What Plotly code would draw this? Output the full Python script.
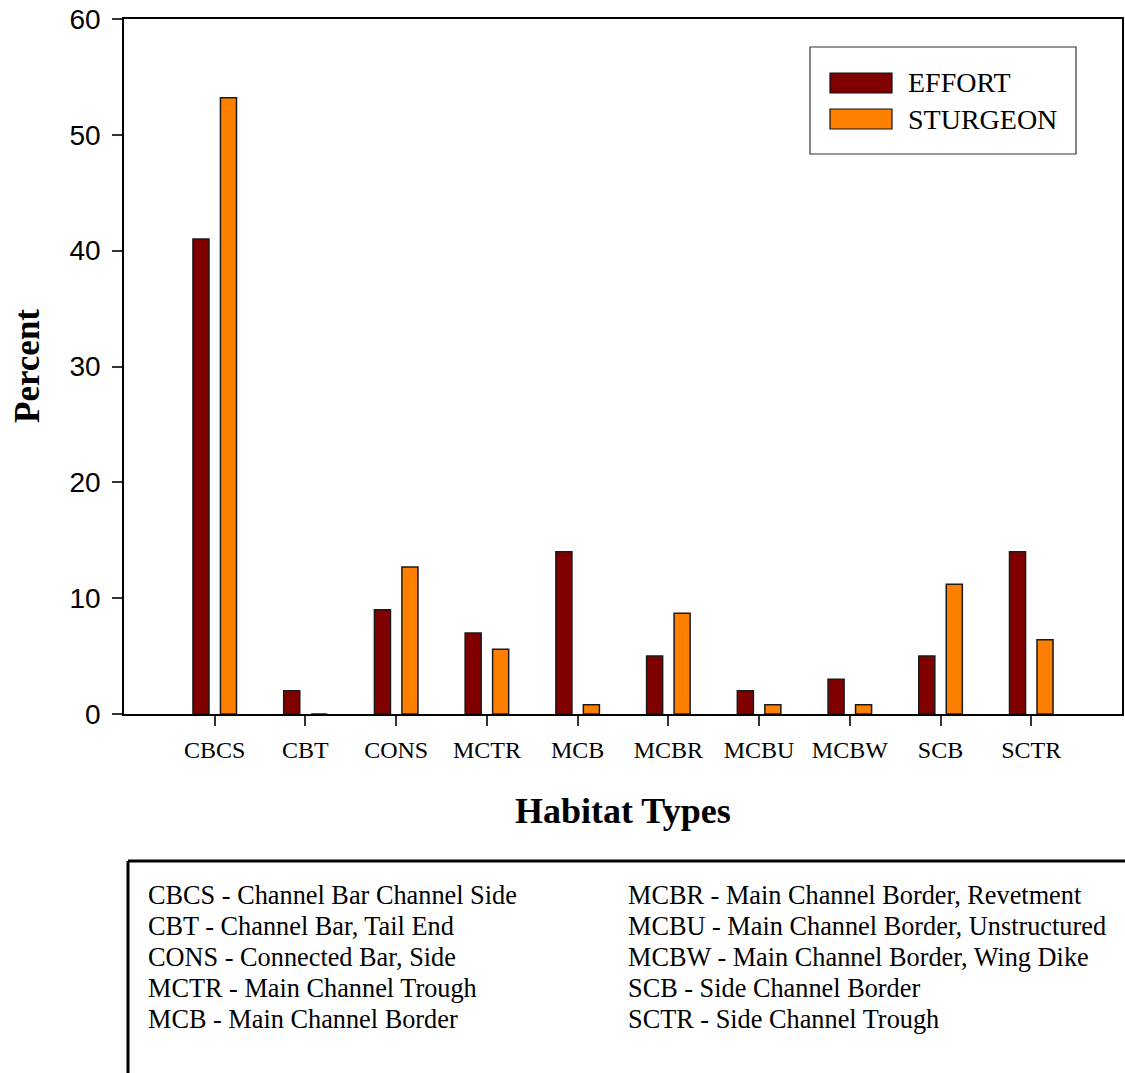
import plotly.graph_objects as go

categories = ["CBCS", "CBT", "CONS", "MCTR", "MCB", "MCBR", "MCBU", "MCBW", "SCB", "SCTR"]
effort = [41, 2, 9, 7, 14, 5, 2, 3, 5, 14]
sturgeon = [53.2, 0, 12.7, 5.6, 0.8, 8.7, 0.8, 0.8, 11.2, 6.4]
y_ticks = [0, 10, 20, 30, 40, 50, 60]
series_names = ["EFFORT", "STURGEON"]
series_colors = ["#800000", "#FF8000"]
key_left = [
    "CBCS - Channel Bar Channel Side",
    "CBT - Channel Bar, Tail End",
    "CONS - Connected Bar, Side",
    "MCTR - Main Channel Trough",
    "MCB - Main Channel Border",
]
key_right = [
    "MCBR - Main Channel Border, Revetment",
    "MCBU - Main Channel Border, Unstructured",
    "MCBW - Main Channel Border, Wing Dike",
    "SCB - Side Channel Border",
    "SCTR - Side Channel Trough",
]

W, H = 1125, 1073
L, T = 124, 19
R, B = W - 1122, H - 714
PW, PH = W - L - R, H - T - B

def px(x):
    return (x - L) / PW

def py(y):
    return 1 - (y - T) / PH

xs = list(range(len(categories)))
fig = go.Figure()
fig.add_trace(go.Bar(x=xs, y=effort, name=series_names[0], marker_color=series_colors[0],
                     marker_line=dict(color="#1a1a1a", width=1.5), offset=-0.24, width=0.177,
                     showlegend=False))
fig.add_trace(go.Bar(x=xs, y=sturgeon, name=series_names[1], marker_color=series_colors[1],
                     marker_line=dict(color="#1a1a1a", width=1.5), offset=0.063, width=0.177,
                     showlegend=False))

serif = "Liberation Serif, Times New Roman, serif"
fig.update_layout(
    width=W, height=H,
    margin=dict(l=L, r=R, t=T, b=B, pad=0, autoexpand=False),
    paper_bgcolor="white", plot_bgcolor="white",
    barmode="overlay",
    xaxis=dict(range=[-1, 10], tickmode="array", tickvals=xs, ticktext=categories,
               showline=True, linecolor="black", linewidth=1.5, mirror=True,
               ticks="outside", ticklen=10, tickwidth=1.5, tickcolor="#333",
               tickfont=dict(family=serif, size=24, color="black"),
               showgrid=False, zeroline=False, ticklabelstandoff=3, automargin=False),
    yaxis=dict(range=[0, 60], tickmode="array", tickvals=y_ticks,
               showline=True, linecolor="black", linewidth=1.5, mirror=True,
               ticks="outside", ticklen=10, tickwidth=1.5, tickcolor="#333",
               tickfont=dict(family="Liberation Sans, Arial, sans-serif", size=28, color="black"),
               showgrid=False, zeroline=False, ticklabelstandoff=6,
               ticklabeloverflow="allow", automargin=False),
)

annotations = []
shapes = []
# axis titles
annotations.append(dict(text="<b>Habitat Types</b>", x=px(623), y=py(811), xref="paper", yref="paper",
                        showarrow=False, font=dict(family=serif, size=36, color="black"),
                        xanchor="center", yanchor="middle"))
annotations.append(dict(text="<b>Percent</b>", x=px(27), y=py(366), xref="paper", yref="paper",
                        showarrow=False, textangle=-90, font=dict(family=serif, size=35, color="black"),
                        xanchor="center", yanchor="middle"))

# legend box
shapes.append(dict(type="rect", xref="paper", yref="paper", x0=px(810), x1=px(1076), y0=py(154), y1=py(47),
                   line=dict(color="#333", width=1.2), fillcolor="white"))
for i, (nm, col) in enumerate(zip(series_names, series_colors)):
    yc = 83 + i * 36
    shapes.append(dict(type="rect", xref="paper", yref="paper", x0=px(830), x1=px(892),
                       y0=py(yc + 10), y1=py(yc - 10), fillcolor=col, line=dict(color="#111", width=1.2)))
    annotations.append(dict(text=nm, x=px(906), y=py(yc), xref="paper", yref="paper", showarrow=False,
                            xanchor="left", yanchor="middle", font=dict(family=serif, size=28, color="black")))

# key box lines
shapes.append(dict(type="line", xref="paper", yref="paper", x0=px(128), x1=px(1125), y0=py(861), y1=py(861),
                   line=dict(color="black", width=3)))
shapes.append(dict(type="line", xref="paper", yref="paper", x0=px(128), x1=px(128), y0=py(861), y1=py(1073),
                   line=dict(color="black", width=3)))
for i, (a, b) in enumerate(zip(key_left, key_right)):
    yc = 895 + i * 31
    annotations.append(dict(text=a, x=px(146), y=py(yc), xref="paper", yref="paper", showarrow=False,
                            xanchor="left", yanchor="middle", font=dict(family=serif, size=26.3, color="black")))
    annotations.append(dict(text=b, x=px(626), y=py(yc), xref="paper", yref="paper", showarrow=False,
                            xanchor="left", yanchor="middle", font=dict(family=serif, size=26.3, color="black")))

fig.update_layout(annotations=annotations, shapes=shapes)
fig.write_html("out.html", config={"displayModeBar": False},
               post_script="document.body.style.margin='0';document.body.style.overflow='hidden';")
